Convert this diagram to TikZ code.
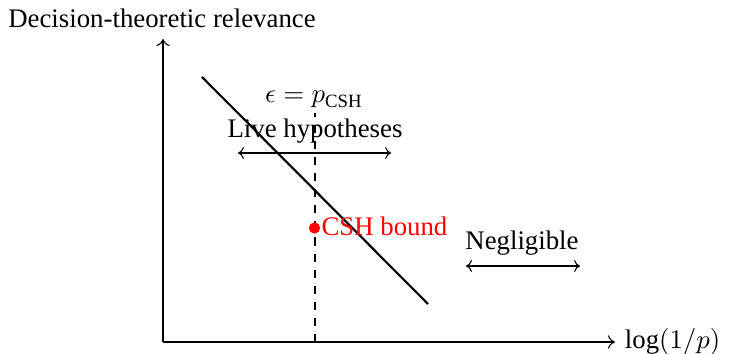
\documentclass[tikz,border=0pt]{standalone}
\usepackage{amsmath}
\usepackage{fontspec}
\setmainfont{Liberation Serif}
\usetikzlibrary{arrows.meta}
\begin{document}
\begin{tikzpicture}[x=0.3731pt,y=-0.3731pt,
  axis/.style={line width=0.4pt,-{To[length=2.6pt,width=5pt]}},
  span/.style={line width=0.4pt,{To[length=2.2pt,width=4.4pt]}-{To[length=2.2pt,width=4.4pt]}},
  lbl/.style={inner sep=0pt,anchor=base}]
\useasboundingbox (0,0) rectangle (735,354);
\coordinate (O) at (163,342);
\coordinate (ytop) at (163,39);
\coordinate (xend) at (615,342);
\draw[axis] (O) -- (ytop);
\draw[axis] (O) -- (xend);
\node[lbl] (ylab) at (162,28) {Decision-theoretic relevance};
\node[anchor=west,inner sep=3.5pt] (xlab) at (xend) {$\log(1/p)$};
\coordinate (l1) at (202,77);
\coordinate (l2) at (428,304);
\draw[line width=0.8pt] (l1) -- (l2);
\coordinate (d0) at (315,342);
\coordinate (d1) at (315,113);
\draw[dashed,line width=0.4pt] (d0) -- (d1);
\node[lbl] (eps) at (314,103) {$\epsilon = p_{\text{CSH}}$};
\node[lbl] (live) at (315,138) {Live hypotheses};
\coordinate (la) at (238,153);
\coordinate (lb) at (391,153);
\draw[span] (la) -- (lb);
\node[circle,fill=red,inner sep=0pt,minimum size=4.2pt] (dot) at (314.5,228) {};
\node[lbl,anchor=base west,text=red] (csh) at (321,236) {CSH bound};
\node[lbl] (neg) at (522,250) {Negligible};
\coordinate (na) at (466,266);
\coordinate (nb) at (580,266);
\draw[span] (na) -- (nb);
\end{tikzpicture}
\end{document}
